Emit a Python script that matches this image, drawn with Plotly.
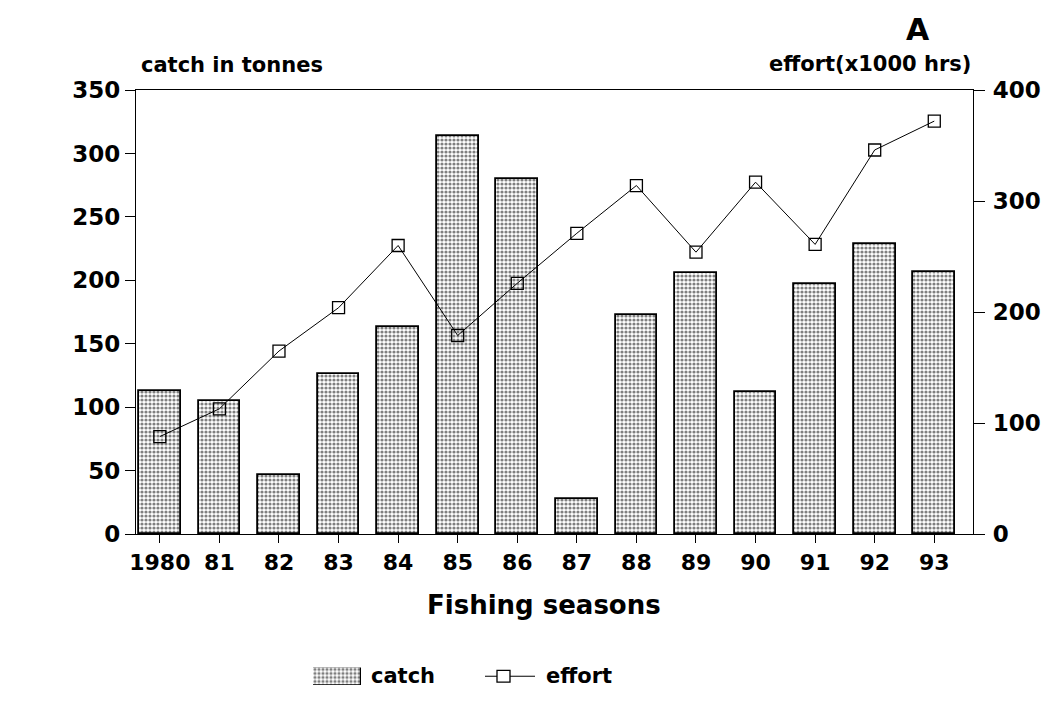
import plotly.graph_objects as go

seasons = ["1980", "81", "82", "83", "84", "85", "86", "87", "88", "89", "90", "91", "92", "93"]
catch_t = [113, 105, 47, 126, 163, 314, 280, 28, 173, 206, 112, 197, 229, 207]
effort_khrs = [88, 113, 165, 204, 260, 179, 226, 271, 314, 254, 317, 261, 346, 372]

W, H = 1049, 705
ML, MR, MT, MB = 136, 76, 90, 5
PW = W - ML - MR
PH = H - MT - MB


def px(x):
    return (x - ML) / PW


def py(y):
    return (H - MB - y) / PH


FONT = "DejaVu Sans"
dots = dict(shape=".", fgcolor="black", bgcolor="white", size=4, solidity=0.5)

fig = go.Figure()
fig.add_trace(go.Bar(
    x=seasons, y=catch_t, width=0.7, name="catch",
    marker=dict(color="white", line=dict(color="black", width=1.8), pattern=dots),
    xaxis="x", yaxis="y", showlegend=False,
))
fig.add_trace(go.Scatter(
    x=seasons, y=effort_khrs, name="effort", mode="lines+markers",
    line=dict(color="black", width=1),
    marker=dict(symbol="square-open", size=12, color="black", line=dict(width=1.3)),
    xaxis="x", yaxis="y2", showlegend=False,
))
# legend patch for "catch"
fig.add_trace(go.Bar(
    x=[0], y=[1], width=1,
    marker=dict(color="white", line=dict(color="black", width=1.2), pattern=dots),
    xaxis="x3", yaxis="y3", showlegend=False, hoverinfo="skip",
))

ydom = [py(544), 1]
axis_common = dict(showline=True, linecolor="black", linewidth=1.2, ticks="outside",
                   tickcolor="black", showgrid=False, zeroline=False)
fig.update_layout(
    width=W, height=H,
    margin=dict(l=ML, r=MR, t=MT, b=MB),
    paper_bgcolor="white", plot_bgcolor="white",
    font=dict(family=FONT, color="black", size=20, weight="bold"),
    xaxis=dict(**axis_common, range=[-0.4, 13.65], ticklen=8, mirror=True,
               tickfont=dict(size=22, weight="bold"), domain=[0, 1], anchor="y"),
    yaxis=dict(**axis_common, range=[0, 350], dtick=50, ticklen=10, domain=ydom,
               tickfont=dict(size=23, weight="bold"), ticklabelstandoff=0),
    yaxis2=dict(**axis_common, range=[0, 400], dtick=100, ticklen=11, overlaying="y",
                side="right", anchor="x", tickfont=dict(size=23, weight="bold"),
                ticklabelstandoff=3),
    xaxis3=dict(domain=[px(313), px(361)], range=[-0.5, 0.5], visible=False, anchor="y3"),
    yaxis3=dict(domain=[py(698), py(680)], range=[0, 1], visible=False, anchor="x3"),
    bargap=0,
    showlegend=False,
)

ann = [
    dict(text="catch in tonnes", x=px(139), y=py(64), xanchor="left", yanchor="middle",
         font=dict(size=21)),
    dict(text="effort(x1000 hrs)", x=px(973), y=py(63), xanchor="right", yanchor="middle",
         font=dict(size=21)),
    dict(text="A", x=px(918), y=py(28), xanchor="center", yanchor="middle",
         font=dict(size=30)),
    dict(text="Fishing seasons", x=px(544), y=py(616), xanchor="center", yanchor="middle",
         font=dict(size=26)),
    dict(text="catch", x=px(369), y=py(689), xanchor="left", yanchor="middle",
         font=dict(size=21)),
    dict(text="effort", x=px(544), y=py(689), xanchor="left", yanchor="middle",
         font=dict(size=21)),
]
for a in ann:
    a.update(xref="paper", yref="paper", showarrow=False)
fig.update_layout(annotations=ann)

fig.update_layout(shapes=[
    dict(type="line", xref="paper", yref="paper", x0=px(485), x1=px(535), y0=py(689), y1=py(689),
         line=dict(color="black", width=1)),
    dict(type="rect", xref="paper", yref="paper", x0=px(497), x1=px(510), y0=py(695), y1=py(683),
         line=dict(color="black", width=1.3), fillcolor="white"),
])

fig.write_html("out.html")
